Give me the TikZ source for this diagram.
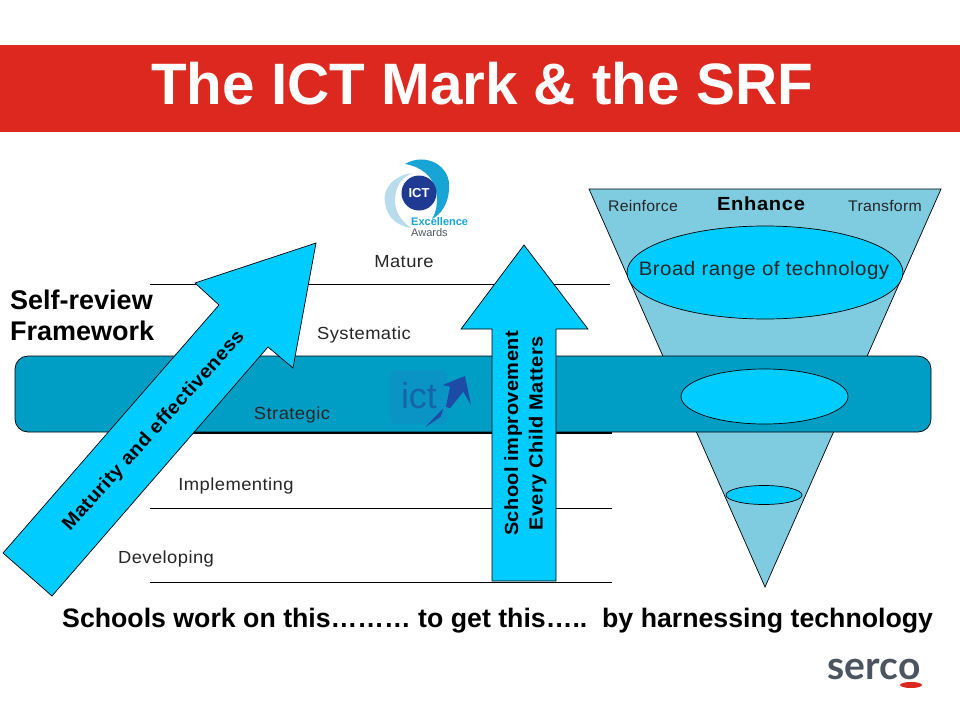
\documentclass[tikz,border=0pt]{standalone}
\usepackage{fontspec}
\usetikzlibrary{shapes.geometric}
\setmainfont{Liberation Sans}
\newfontfamily\sercofont{Lato}
\newfontfamily\lsa[LetterSpace=1.5,FakeStretch=1.03]{Liberation Sans}
\newfontfamily\lsb[LetterSpace=2.5,FakeStretch=1.05]{Liberation Sans}
\newfontfamily\lsc[LetterSpace=3.5,FakeStretch=1.06]{Liberation Sans}
\definecolor{bandc}{HTML}{009DC4}
\definecolor{cyanc}{HTML}{00CCFF}
\definecolor{funnelc}{HTML}{7FCCE0}
\definecolor{redc}{HTML}{DC281E}
\definecolor{logoblue}{HTML}{1F3A93}
\definecolor{ictbox}{HTML}{0A94C6}
\definecolor{ictmid}{HTML}{1565A8}
\definecolor{ictarrow}{HTML}{1E4BA5}
\definecolor{awardc}{HTML}{18A4D4}
\definecolor{awardl}{HTML}{B8DCEE}
\definecolor{sercog}{HTML}{4A5560}
\tikzset{x=1pt,y=-1pt,
 shp/.style={draw=black,line width=0.7pt},
 lab/.style={inner sep=0pt,font=\lsa\fontsize{15.4}{19}\selectfont,text=black!85},
 levlab/.style={inner sep=0pt,font=\lsb\fontsize{17.5}{22}\selectfont,text=black!85},
 bigb/.style={inner sep=0pt,font=\bfseries\fontsize{27}{31}\selectfont,align=left,anchor=west},
 arrowtxt/.style={inner sep=0pt,font=\lsb\bfseries\fontsize{19}{24.5}\selectfont,align=center},
 level/.style={line width=0.7pt,black}}
\begin{document}
\begin{tikzpicture}
\useasboundingbox (0,0) rectangle (960,720);
\fill[white] (0,0) rectangle (960,720);
\node[fill=redc,minimum width=960pt,minimum height=87pt,inner sep=0pt,anchor=north west] (banner) at (0,45) {};
\node[inner sep=0pt,text=white,font=\bfseries\fontsize{58.4}{64}\selectfont] (title) at (482,84) {The ICT Mark \& the SRF};
% levels
\coordinate (l1a) at (150,284); \coordinate (l1b) at (610,284);
\coordinate (l2a) at (150,508); \coordinate (l2b) at (612,508);
\coordinate (l3a) at (150,582); \coordinate (l3b) at (612,582);
\coordinate (l4a) at (150,433); \coordinate (l4b) at (612,433);
\draw[level] (l1a)--(l1b);
\draw[level] (l2a)--(l2b);
\draw[level] (l3a)--(l3b);
% funnel
\draw[shp,fill=funnelc] (589,189)--(941,189)--(765,587)--cycle;
% band
\draw[shp,fill=bandc,rounded corners=13pt] (15,356) rectangle (931,432);
\draw[level,line width=1.2pt] (l4a)--(l4b);
% ict logo
\begin{scope}
\fill[ictbox,rounded corners=6pt] (390,370) rectangle (447,424);
\node[inner sep=0pt,text=ictmid,font=\fontsize{36}{36}\selectfont] (ictlogo) at (419,396) {ict};
\fill[ictarrow] (442.7,385)--(465,376)--(471,405)--(463.3,391.7)--(450,408.3)--(446,406.7)--(450,386.7)--cycle;
\fill[ictarrow] (425,427.3)--(443.3,408.3)--(440.7,416.7)--cycle;
\end{scope}
% ellipses
\node[shp,ellipse,fill=cyanc,minimum width=276pt,minimum height=93pt,inner sep=0pt] (e1) at (765,272.5) {};
\node[inner sep=0pt,font=\lsb\fontsize{19.5}{25}\selectfont,text=black!85] (e1t) at (764,270.5) {Broad range of technology};
\node[shp,ellipse,fill=cyanc,minimum width=167pt,minimum height=55pt,inner sep=0pt] (e2) at (764.5,396.5) {};
\node[shp,ellipse,fill=cyanc,minimum width=76pt,minimum height=19pt,inner sep=0pt] (e3) at (764,495) {};
\node[lab] (rein) at (643,205.5) {Reinforce};
\node[inner sep=0pt,font=\lsc\bfseries\fontsize{19}{25}\selectfont] (enh) at (761,204) {Enhance};
\node[lab] (trans) at (885,205.5) {Transform};
% level labels
\node[levlab] (m) at (404,261.5) {Mature};
\node[levlab] (s) at (364,334.5) {Systematic};
\node[levlab] (st) at (292,414.5) {Strategic};
\node[levlab] (im) at (236,485.5) {Implementing};
\node[levlab] (de) at (166,558.5) {Developing};
% big arrows
\draw[shp,fill=cyanc] (3,553)--(219,305)--(195,283)--(316,243)--(293,368)--(268,347)--(52,596)--cycle;
\node[arrowtxt,rotate=48] (mat) at (154,431) {Maturity and effectiveness};
\draw[shp,fill=cyanc] (492,581)--(492,329)--(461,329)--(524,245)--(588,329)--(556,329)--(556,581)--cycle;
\node[arrowtxt,rotate=90] (sch) at (525.5,433.5) {School improvement\\Every Child Matters};
% text
\node[bigb] (srf) at (10,315) {Self-review\\Framework};
\node[inner sep=0pt,font=\bfseries\fontsize{26.7}{31}\selectfont,anchor=west] (bottom) at (62,621) {Schools work on this……… to get this…..\ \ by harnessing technology};
% award logo
\fill[awardc] (405,164) .. controls (425,152) and (452,165) .. (449,190) .. controls (448,205) and (440,215) .. (432,219) .. controls (441,205) and (441,170) .. (405,164) -- cycle;
\fill[awardl] (413,173) .. controls (393,175) and (382,190) .. (385,203) .. controls (387,218) and (398,226) .. (411,228) .. controls (400,220) and (394,210) .. (395,198) .. controls (396,185) and (403,176) .. (413,173) -- cycle;
\node[circle,fill=logoblue,minimum size=35pt,inner sep=0pt,text=white,font=\bfseries\fontsize{13}{13}\selectfont] (ict2) at (419,193) {ICT};
\node[inner sep=0pt,font=\bfseries\fontsize{11}{11}\selectfont,text=awardc,anchor=west] (ex) at (411,222) {Excellence};
\node[inner sep=0pt,font=\fontsize{11}{11}\selectfont,text=sercog,anchor=west] (aw) at (411,233) {Awards};
% serco
\node[inner sep=0pt,font=\sercofont\bfseries\fontsize{39}{39}\selectfont,text=sercog] (serco) at (874,669) {serco};
\node[ellipse,fill=redc,minimum width=22pt,minimum height=6pt,inner sep=0pt] (sercod) at (911,685) {};
\end{tikzpicture}
\end{document}
